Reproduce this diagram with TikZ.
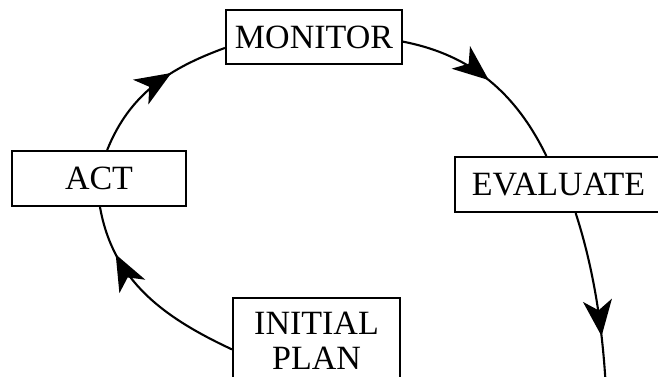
\documentclass[tikz,border=0pt]{standalone}
\usepackage{fontspec}
\setmainfont{Liberation Serif}
\usetikzlibrary{arrows.meta,decorations.markings}
\begin{document}
\begin{tikzpicture}[x=1pt,y=1pt,
  box/.style={draw,line width=2.1pt,inner sep=0pt,align=center,
    font=\fontsize{34}{35}\selectfont},
  flow/.style={line width=2.1pt,postaction={decorate},
    decoration={markings,mark=at position #1 with {\arrow{Stealth[length=36pt,width=29pt,inset=10pt]}}}}
]
\useasboundingbox (0,0) rectangle (658,376);
\node[box,minimum width=176pt,minimum height=54pt] (monitor) at (314,339) {MONITOR};
\node[box,minimum width=174pt,minimum height=55pt] (act) at (99,197.5) {ACT};
\node[box,minimum width=207pt,minimum height=55pt] (evaluate) at (558.5,191.5) {EVALUATE};
\node[box,minimum width=167pt,minimum height=85pt] (plan) at (316.5,35.5) {INITIAL\\PLAN};
\coordinate (next) at (606,-14);
\draw[flow=102pt] (act.74) .. controls +(68:60) and +(200:60) .. (monitor.187);
\draw[flow=95pt] (monitor.-3) .. controls +(-11:70) and +(116:70) .. (evaluate.113);
\draw[flow=126pt] (evaluate.-59) .. controls +(-72:60) and +(93:60) .. (next);
\draw[flow=153pt] (plan.186) .. controls +(155:75) and +(-80:75) .. (act.-88);
\end{tikzpicture}
\end{document}
